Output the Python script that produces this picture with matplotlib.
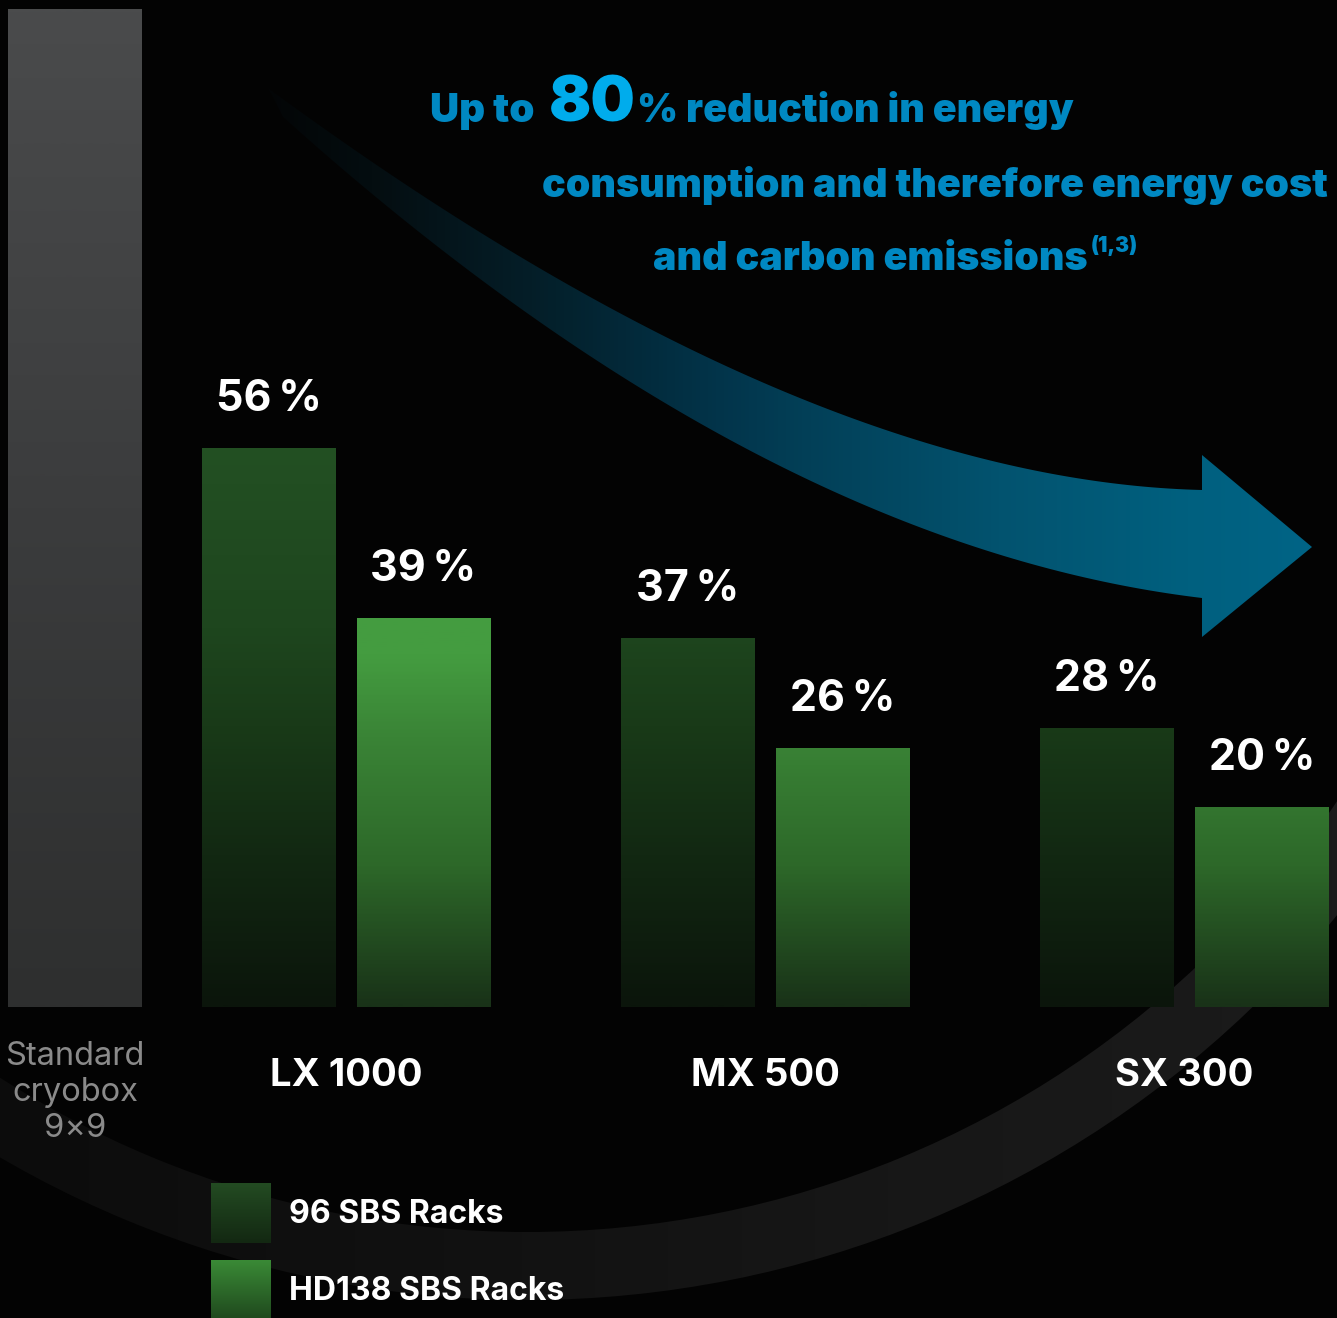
import numpy as np
import matplotlib
matplotlib.use("Agg")
import matplotlib.pyplot as plt
from matplotlib.colors import LinearSegmentedColormap
from matplotlib.patches import PathPatch, Annulus, Rectangle
from matplotlib.path import Path

# values (share of energy use vs. a standard cryobox, %)
categories = ["LX 1000", "MX 500", "SX 300"]
racks_96 = [56, 37, 28]
racks_hd138 = [39, 26, 20]
standard_value = 100
standard_label = "Standard\ncryobox\n9×9"
series_names = ["96 SBS Racks", "HD138 SBS Racks"]
headline = ["Up to", "80", "% reduction in energy",
            "consumption and therefore energy cost",
            "and carbon emissions", "(1,3)"]

W, H = 1337, 1318
BG = "#030303"
BLUE = "#0088c2"
BLUE_HI = "#00acec"
PX_PER_PCT = 9.98
BASE_Y = 1007

plt.rcParams['font.family'] = ['Inter', 'DejaVu Sans']

fig = plt.figure(figsize=(W / 100, H / 100), dpi=100, facecolor=BG)

# ---- background layer, pixel coordinates ----
bg = fig.add_axes([0, 0, 1, 1], zorder=0)
bg.axis('off')

# faint grey arc
arc = Annulus((527, 255), 1045, 68, facecolor='none', edgecolor='none')
bg.add_patch(arc)
xgrad = np.linspace(0, 1, 256).reshape(1, -1)
arc_cmap = LinearSegmentedColormap.from_list('arc', ['#0c0c0c', '#111111', '#171717', '#1b1b1b'])
im = bg.imshow(xgrad, extent=(0, W, H, 0), cmap=arc_cmap, aspect='auto', zorder=1)
im.set_clip_path(arc)


def qbez(p0, p1, p2, n=100):
    t = np.linspace(0, 1, n)[:, None]
    return (1 - t) ** 2 * np.array(p0) + 2 * t * (1 - t) * np.array(p1) + t ** 2 * np.array(p2)


# curved arrow
upper = qbez((268, 88), (800, 480), (1202, 490))
lower = qbez((283, 117), (760, 545), (1202, 598))[::-1]
head = np.array([(1202, 455), (1312, 547), (1202, 637)])
verts = np.vstack([upper, head, lower, upper[:1]])
codes = [Path.MOVETO] + [Path.LINETO] * (len(verts) - 2) + [Path.CLOSEPOLY]
arrow = PathPatch(Path(verts, codes), facecolor='none', edgecolor='none')
bg.add_patch(arrow)
arrow_cmap = LinearSegmentedColormap.from_list('arrow', [
    (0.0, '#030506'), (0.1, '#040d10'), (0.27, '#04202b'), (0.43, '#02344a'),
    (0.52, '#024058'), (0.7, '#03536f'), (0.88, '#00607f'), (1.0, '#006486')])
im = bg.imshow(xgrad, extent=(265, 1315, 640, 80), cmap=arrow_cmap, aspect='auto', zorder=2)
im.set_clip_path(arrow)

bg.set_xlim(0, W)
bg.set_ylim(H, 0)

# headline
fig.canvas.draw()
r = fig.canvas.get_renderer()


def right_edge(t):
    bb = t.get_window_extent(r)
    return bg.transData.inverted().transform((bb.x1, bb.y0))[0]


kw = dict(color=BLUE, fontweight='black', va='baseline', ha='left', zorder=5)
t1 = bg.text(430, 122, headline[0], fontsize=29, **kw)
t2 = bg.text(right_edge(t1) + 14, 122, headline[1], fontsize=45,
             color=BLUE_HI, fontweight='black', va='baseline', ha='left', zorder=5)
bg.text(right_edge(t2) + 2, 122, headline[2], fontsize=28.3, **kw)
bg.text(542, 197, headline[3], fontsize=28.3, **kw)
t5 = bg.text(653, 270, headline[4], fontsize=28.3, **kw)
bg.text(right_edge(t5) + 3, 252, headline[5], fontsize=15, **kw)

# legend swatches
leg_cmaps = [
    LinearSegmentedColormap.from_list('l96', ['#234b22', '#132812']),
    LinearSegmentedColormap.from_list('lhd', ['#3a8a36', '#1f481d']),
]
ygrad = np.linspace(0, 1, 256).reshape(-1, 1)
for i, name in enumerate(series_names):
    top = 1183 + 77 * i
    sw = Rectangle((211, top), 60, 60, facecolor='none', edgecolor='none')
    bg.add_patch(sw)
    im = bg.imshow(ygrad, extent=(211, 271, top + 60, top), cmap=leg_cmaps[i],
                   aspect='auto', zorder=3)
    im.set_clip_path(sw)
    bg.text(289, top + 40, name, color='white', fontsize=23, fontweight='bold',
            va='baseline', ha='left', zorder=5)
bg.set_xlim(0, W)
bg.set_ylim(H, 0)

# ---- bar layer, y in percent ----
ax = fig.add_axes([0, 0, 1, 1], zorder=1)
ax.patch.set_alpha(0)
ax.axis('off')

centers = np.array([346, 765, 1184.5])
bw = 134
off = 77.5

cm_std = LinearSegmentedColormap.from_list('std', ['#2e2f2f', '#3b3c3d', '#4a4b4c'])
cm_96 = LinearSegmentedColormap.from_list('c96', [
    (0.0, '#0b150b'), (0.15, '#122812'), (0.28, '#193a18'), (0.38, '#1e461e'),
    (0.56, '#235023'), (1.0, '#235023')])
cm_hd = LinearSegmentedColormap.from_list('chd', [
    (0.0, '#193218'), (0.14, '#2d6829'), (0.27, '#3a8436'), (0.35, '#449c40'),
    (1.0, '#449c40')])

grad100 = np.linspace(0, 100, 512).reshape(-1, 1)


def gradient_bars(bars, cmap):
    for b in bars:
        img = ax.imshow(grad100, extent=(0, W, 0, 100), origin='lower', cmap=cmap,
                        vmin=0, vmax=100, aspect='auto', zorder=2)
        img.set_clip_path(b)


std_bars = ax.bar([75], [standard_value], width=bw, color='none', linewidth=0)
bars_96 = ax.bar(centers - off, racks_96, width=bw, color='none', linewidth=0)
bars_hd = ax.bar(centers + off, racks_hd138, width=bw, color='none', linewidth=0)
gradient_bars(std_bars, cm_std)
gradient_bars(bars_96, cm_96)
gradient_bars(bars_hd, cm_hd)

lab = dict(color='white', fontsize=31, fontweight='bold', ha='center', va='baseline', zorder=5)
for x, v in zip(centers - off, racks_96):
    ax.text(x, v + 3.7, f"{v}\u2009%", **lab)
for x, v in zip(centers + off, racks_hd138):
    ax.text(x, v + 3.7, f"{v}\u2009%", **lab)

for x, c in zip(centers, categories):
    ax.text(x, -7.9, c, color='white', fontsize=27.5, fontweight='bold',
            ha='center', va='baseline')
ax.text(75, -3.4, standard_label, color='#8a8a8a', fontsize=23.5, ha='center',
        va='top', linespacing=1.2)

ax.set_xlim(0, W)
ax.set_ylim(-(H - BASE_Y) / PX_PER_PCT, BASE_Y / PX_PER_PCT)

fig.savefig("out.png", dpi=100, facecolor=BG)
